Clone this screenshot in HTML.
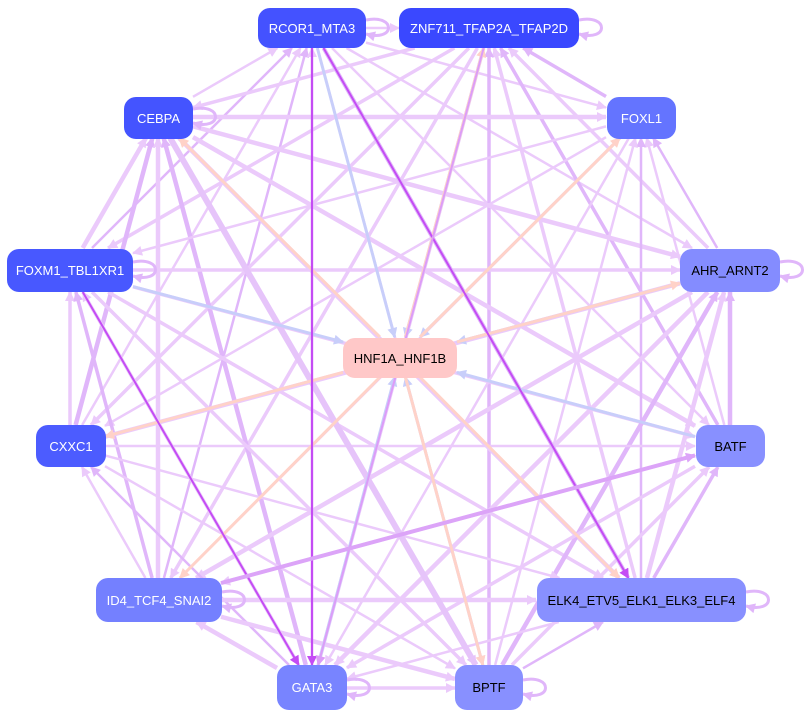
<!DOCTYPE html>
<html><head><meta charset="utf-8"><style>
html,body{margin:0;padding:0;background:#fff;width:811px;height:718px;overflow:hidden}
svg{position:absolute;left:0;top:0}
.n{position:absolute;border-radius:12px;display:flex;align-items:center;justify-content:center;font-family:"Liberation Sans",sans-serif;font-size:13px;box-sizing:border-box}
.w{color:#fff}.k{color:#000}
</style></head><body>
<svg id="s" width="811" height="718" xmlns="http://www.w3.org/2000/svg">
<defs></defs><g id="g"></g>
</svg>
<div class="n w" style="left:258px;top:8px;width:108px;height:40px;background:#4452ff">RCOR1_MTA3</div>
<div class="n w" style="left:399px;top:8px;width:180px;height:40px;background:#3a48ff">ZNF711_TFAP2A_TFAP2D</div>
<div class="n w" style="left:124px;top:97px;width:69px;height:42px;background:#4454ff">CEBPA</div>
<div class="n w" style="left:607px;top:97px;width:69px;height:42px;background:#6474ff">FOXL1</div>
<div class="n w" style="left:7px;top:249px;width:126px;height:43px;background:#4858ff">FOXM1_TBL1XR1</div>
<div class="n k" style="left:680px;top:249px;width:100px;height:43px;background:#848cff">AHR_ARNT2</div>
<div class="n k" style="left:343px;top:338px;width:114px;height:40px;background:#ffc8c8">HNF1A_HNF1B</div>
<div class="n w" style="left:36px;top:425px;width:70px;height:42px;background:#4c5cff">CXXC1</div>
<div class="n k" style="left:696px;top:425px;width:69px;height:42px;background:#8890ff">BATF</div>
<div class="n w" style="left:96px;top:578px;width:126px;height:44px;background:#7480ff">ID4_TCF4_SNAI2</div>
<div class="n k" style="left:537px;top:578px;width:209px;height:44px;background:#8890ff">ELK4_ETV5_ELK1_ELK3_ELF4</div>
<div class="n w" style="left:277px;top:665px;width:70px;height:45px;background:#7884ff">GATA3</div>
<div class="n k" style="left:455px;top:665px;width:68px;height:45px;background:#8890ff">BPTF</div>
<script>
var N={R:[312,28,54,20],Z:[489,28,90,20],C:[158,117,35,21],F:[641,117,35,21],M:[70,270,63,22],A:[730,270,50,22],H:[400,357,57,20],X:[70,446,35,21],B:[730,446,35,21],I:[158,600,63,22],E:[641,600,105,22],G:[312,688,35,23],P:[489,688,34,23]};
var outer="RZCFMAXBIEGP".split("");
var g=document.getElementById('g'),defs=document.querySelector('defs'),ns="http://www.w3.org/2000/svg";
var mk={};
function marker(c){if(mk[c])return mk[c];var id='m'+Object.keys(mk).length;var m=document.createElementNS(ns,'marker');m.setAttribute('id',id);m.setAttribute('viewBox','0 0 10 10');m.setAttribute('refX','9');m.setAttribute('refY','5');m.setAttribute('markerWidth','12');m.setAttribute('markerHeight','10');m.setAttribute('orient','auto');m.setAttribute('markerUnits','userSpaceOnUse');var p=document.createElementNS(ns,'path');p.setAttribute('d','M0,0L10,5L0,10z');p.setAttribute('fill',c);m.appendChild(p);defs.appendChild(m);mk[c]=id;return id;}
function clip(a,b){var dx=a[0]-b[0],dy=a[1]-b[1];var t=Math.min(b[2]/Math.abs(dx||1e-6),b[3]/Math.abs(dy||1e-6));return [b[0]+dx*t,b[1]+dy*t];}
function edge(s,t,c,w){var a=N[s],b=N[t];var p=clip(b,a),q=clip(a,b);var l=document.createElementNS(ns,'line');l.setAttribute('x1',p[0]);l.setAttribute('y1',p[1]);l.setAttribute('x2',q[0]);l.setAttribute('y2',q[1]);l.setAttribute('stroke',c);l.setAttribute('stroke-width',w);l.setAttribute('marker-end','url(#'+marker(c)+')');g.appendChild(l);}
var L="#ebcafb",L2="#e0b6fa";
for(var i=0;i<outer.length;i++)for(var j=i+1;j<outer.length;j++){var w=2.5+((i*7+j*3)%3);var col=((i*5+j)%4==0)?L2:L;edge(outer[(i+j)%2?i:j],outer[(i+j)%2?j:i],col,w);}
edge('C','P',"#e6c4fa",6);edge('R','E',"#e0b8fa",4);
["R","M","F","A","B","G","P","Z"].forEach(function(k){edge(k,'H',"#c8cefa",3)});
["C","F","A","X","I","E","P","Z"].forEach(function(k){edge('H',k,"#ffd2c8",3)});
edge('R','G',"#c44cf4",2.2);edge('R','E',"#c44cf4",2);edge('M','G',"#c44cf4",2);edge('Z','G',"#dc9cf8",2);edge('I','B',"#dca4f8",4);
function loop(x,y){var p=document.createElementNS(ns,'path');p.setAttribute('d','M'+x+','+(y-8)+' C'+(x+30)+','+(y-14)+' '+(x+30)+','+(y+14)+' '+x+','+(y+6));p.setAttribute('fill','none');p.setAttribute('stroke',L2);p.setAttribute('stroke-width',3);p.setAttribute('marker-end','url(#'+marker(L2)+')');g.appendChild(p);}
loop(579,28);loop(193,117);loop(780,270);loop(746,600);loop(523,688);loop(133,270);loop(347,688);loop(366,28);loop(222,600);
</script>
</body></html>
